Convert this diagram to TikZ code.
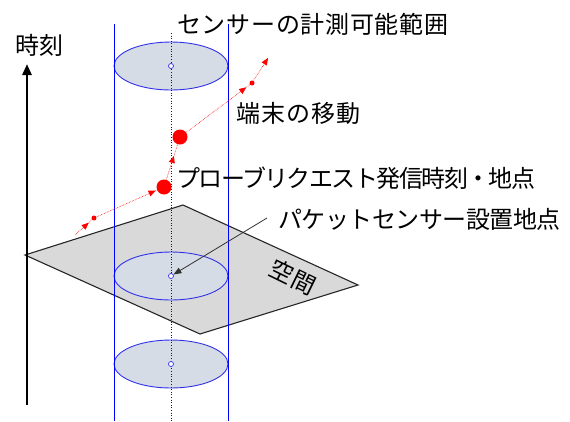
\documentclass[tikz,border=0pt]{standalone}
\usepackage{fontspec}
\newfontfamily\jp{Noto Sans CJK JP}
\usetikzlibrary{shapes.geometric,arrows.meta,decorations.markings}
\definecolor{sblue}{RGB}{50,50,235}
\definecolor{efill}{RGB}{214,220,229}
\definecolor{pgray}{RGB}{217,217,217}
\definecolor{rred}{RGB}{255,0,0}
\tikzset{
  lbl/.style={font=\jp\fontsize{24}{26}\selectfont, inner sep=0pt, anchor=west},
  senserange/.style={ellipse, draw=sblue, fill=efill, line width=0.9pt, minimum width=114pt, minimum height=48pt, inner sep=0pt},
  ctr/.style={circle, draw=sblue, fill=white, line width=0.7pt, minimum size=5pt, inner sep=0pt},
  vline/.style={draw=blue, line width=0.8pt},
  cline/.style={draw=blue, line width=0.6pt, dotted},
  bigdot/.style={circle, fill=rred, minimum size=15pt, inner sep=0pt},
  smalldot/.style={circle, fill=rred, minimum size=5pt, inner sep=0pt},
  mv/.style={draw=rred, line width=0.6pt, densely dotted},
  midarrow/.style={postaction={decorate, decoration={markings, mark=at position #1 with {\arrow[rred, solid]{Triangle[length=7pt,width=6pt]}}}}}
}
\begin{document}
\begin{tikzpicture}[x=1pt,y=-1pt]
\useasboundingbox (0,0) rectangle (570,421);
% vertical range lines
\coordinate (lt) at (114,24); \coordinate (lb) at (114,421);
\coordinate (rt) at (228,24); \coordinate (rb) at (228,421);
\coordinate (ct) at (171,33); \coordinate (cb) at (171,421);
% plane
\coordinate (pl) at (25,255); \coordinate (pt) at (183,205);
\coordinate (pr) at (358,285); \coordinate (pb) at (200,334);
\filldraw[fill=pgray, draw=black!85, line width=1.1pt, line join=miter] (pl) -- (pt) -- (pr) -- (pb) -- cycle;
\node[font=\jp\fontsize{23.5}{25}\selectfont, rotate=-26, inner sep=0pt] (space) at (293,277) {空間};
% ellipses
\node[senserange] (e1) at (171,66) {};
\node[senserange] (e2) at (171,276) {};
\node[senserange] (e3) at (171,364) {};
\path[vline] (lt) -- (lb);
\path[vline] (rt) -- (rb);
\path[cline] (ct) -- (cb);
\node[ctr] (c1) at (e1.center) {};
\node[ctr] (c2) at (e2.center) {};
\node[ctr] (c3) at (e3.center) {};
% time axis
\coordinate (ta) at (27,405); \coordinate (tb) at (27,64);
\draw[line width=2.6pt, -{Triangle[length=11pt,width=9pt]}] (ta) -- (tb);
\node[lbl, anchor=center] (time) at (39,45) {時刻};
% terminal movement
\coordinate (m0) at (75,235);
\node[smalldot] (m1) at (94,218) {};
\node[bigdot] (m2) at (164,187) {};
\node[bigdot] (m3) at (180,137) {};
\node[smalldot] (m4) at (252,83) {};
\coordinate (m5) at (268,58);
\draw[mv, midarrow=0.72] (m0) -- (m1.center);
\draw[mv, midarrow=0.88] (m1.center) -- (m2.center);
\draw[mv, midarrow=0.62] (m2.center) -- (m3.center);
\draw[mv, midarrow=0.92] (m3.center) -- (m4.center);
\draw[mv, midarrow=1] (m4.center) -- (m5);
% labels
\node[lbl, font=\jp\addfontfeature{LetterSpace=3}\fontsize{24}{26}\selectfont] (t1) at (177,24) {センサーの計測可能範囲};
\node[lbl, font=\jp\addfontfeature{LetterSpace=4}\fontsize{24}{26}\selectfont] (t2) at (236,113) {端末の移動};
\node[lbl, font=\jp\addfontfeature{LetterSpace=-6.5}\fontsize{24}{26}\selectfont] (t3) at (176,178) {プローブリクエスト発信時刻・地点};
\node[lbl, font=\jp\addfontfeature{LetterSpace=-2}\fontsize{24}{26}\selectfont] (t4) at (278,219) {パケットセンサー設置地点};
\coordinate (a0) at (267,218);
\draw[black!80, line width=0.8pt, -{Triangle[length=8pt,width=6pt]}] (a0) -- (c2);
\end{tikzpicture}
\end{document}
